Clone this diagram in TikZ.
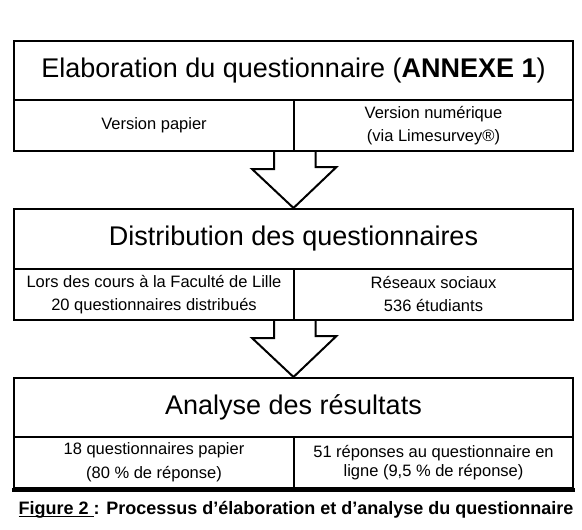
\documentclass[tikz,border=0pt]{standalone}
\usepackage{fontspec}
\setmainfont{Liberation Sans}
\usetikzlibrary{calc}
\newcommand\capul[1]{\setbox0\hbox{#1}\rlap{\rule[-2.2pt]{\wd0}{1.3pt}}\box0}
\begin{document}
\begin{tikzpicture}[x=1pt,y=-1pt,
  cell/.style={draw, line width=2pt, inner sep=0pt, anchor=north west, align=center},
  headbox/.style={cell, minimum width=559pt, minimum height=59pt, font=\fontsize{27}{32}\selectfont},
  subbox/.style={cell, minimum height=51pt, font=\fontsize{16.5}{23}\selectfont},
  leftcell/.style={subbox, minimum width=280pt},
  rightcell/.style={subbox, minimum width=279pt},
  bigarrow/.style={draw, line width=2pt, line join=miter}]
\useasboundingbox (0,0) rectangle (582,530);
% box 1
\node[headbox] (t1) at (13,40) {Elaboration du questionnaire (\textbf{ANNEXE 1})};
\node[leftcell] (l1) at (13,99) {Version papier};
\node[rightcell] (r1) at (293,99) {Version numérique\\(via Limesurvey®)};
% box 2
\node[headbox, minimum height=60pt] (t2) at (13,208) {Distribution des questionnaires};
\node[leftcell] (l2) at (13,268) {Lors des cours à la Faculté de Lille\\20 questionnaires distribués};
\node[rightcell] (r2) at (293,268) {Réseaux sociaux\\536 étudiants};
% box 3
\node[headbox] (t3) at (13,377) {Analyse des résultats};
\node[leftcell, font=\fontsize{16.5}{24}\selectfont] (l3) at (13,436) {18 questionnaires papier\\(80 \% de réponse)};
\node[rightcell, font=\fontsize{16.5}{19}\selectfont] (r3) at (293,436) {51 réponses au questionnaire en\\ligne (9,5 \% de réponse)};
\draw[line width=3.5pt] ($(l3.south west)+(-1,0.75)$) -- ($(r3.south east)+(1,0.75)$);
% arrows
\draw[bigarrow] ($(l1.south east)+(-21,0)$) -- ++(0,17) -- ++(-22,0) -- (t2.north)
  -- ($(t2.north)+(43,-41)$) -- ++(-21,0) -- ++(0,-17);
\draw[bigarrow] ($(l2.south east)+(-21,0)$) -- ++(0,17) -- ++(-22,0) -- (t3.north)
  -- ($(t3.north)+(43,-41)$) -- ++(-21,0) -- ++(0,-17);
% caption
\node[font=\bfseries\fontsize{18}{20}\selectfont, inner sep=0pt] (cap) at (296,510)
  {\capul{Figure 2\ }: Processus d’élaboration et d’analyse du questionnaire};
\end{tikzpicture}
\end{document}
